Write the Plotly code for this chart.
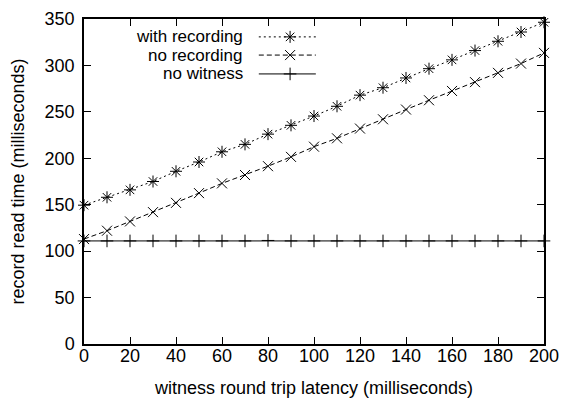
import plotly.graph_objects as go

latency = [0, 10, 20, 30, 40, 50, 60, 70, 80, 90, 100, 110, 120, 130, 140, 150, 160, 170, 180, 190, 200]
with_recording = [149.5, 158, 166, 175, 186, 196, 207, 215, 226, 235.5, 245.5, 256, 268, 276, 286.5, 296.5, 306, 316, 326, 336, 346.5]
no_recording = [113, 122, 132, 142, 152, 162.5, 173, 182, 191.5, 201.5, 212.5, 221.5, 232, 242, 252.5, 262.5, 272.5, 282, 292, 302, 313.5]
no_witness = [111, 111, 111, 111, 111, 111, 111, 111, 111.5, 111, 111, 111, 111, 111, 111, 111, 111, 111, 111, 111, 111]

series_names = ["with recording", "no recording", "no witness"]
series_data = [with_recording, no_recording, no_witness]
series_dash = ["2px,3px", "5px,3px", "solid"]
series_symbol = ["asterisk-open", "x-thin-open", "cross-thin-open"]
series_msize = [10, 10, 9]

x_ticks = [0, 20, 40, 60, 80, 100, 120, 140, 160, 180, 200]
y_ticks = [0, 50, 100, 150, 200, 250, 300, 350]

FONT = "Liberation Sans, Arial, Helvetica, sans-serif"
TICK_SIZE = 18
TITLE_SIZE = 18
KEY_SIZE = 17

fig = go.Figure()
for name, ys, dash, sym, ms in zip(series_names, series_data, series_dash, series_symbol, series_msize):
    fig.add_trace(go.Scatter(
        x=latency, y=ys, name=name, mode="lines+markers",
        line=dict(color="black", width=1, dash=dash),
        marker=dict(symbol=sym, size=ms, color="black", line=dict(color="black", width=1)),
        showlegend=False, cliponaxis=False,
    ))

# gnuplot-style key: text right-aligned, sample to the right
key_text_x = 0.350
key_line_x0, key_line_x1 = 0.380, 0.504
key_marker_x = 0.448
key_ys = [0.945, 0.889, 0.831]
annotations = []
for name, dash, sym, ms, ky in zip(series_names, series_dash, series_symbol, series_msize, key_ys):
    fig.add_trace(go.Scatter(
        x=[key_line_x0, key_line_x1], y=[ky, ky],
        xaxis="x2", yaxis="y2", mode="lines", showlegend=False, hoverinfo="skip",
        line=dict(color="black", width=1, dash=dash),
    ))
    fig.add_trace(go.Scatter(
        x=[key_marker_x], y=[ky],
        xaxis="x2", yaxis="y2", mode="markers", showlegend=False, hoverinfo="skip",
        marker=dict(symbol=sym, size=ms, color="black", line=dict(color="black", width=1)),
    ))
    annotations.append(dict(
        x=key_text_x, y=ky, xref="paper", yref="paper", text=name, showarrow=False,
        xanchor="right", yanchor="middle", font=dict(family=FONT, size=KEY_SIZE, color="black"),
    ))

axis_common = dict(
    showgrid=False, zeroline=False, showline=True, linecolor="black", linewidth=1.5,
    mirror="allticks", ticks="inside", ticklen=7, tickwidth=1, tickcolor="black",
    tickfont=dict(family=FONT, size=TICK_SIZE, color="black"), automargin=False,
)

fig.update_layout(
    width=561, height=398,
    margin=dict(l=84, r=17, t=19, b=54),
    paper_bgcolor="white", plot_bgcolor="white",
    xaxis=dict(range=[0, 200], tickvals=x_ticks, ticktext=[str(v) for v in x_ticks],
               ticklabelstandoff=-5,
               title=dict(text="witness round trip latency (milliseconds)", standoff=17,
                          font=dict(family=FONT, size=TITLE_SIZE, color="black")),
               **axis_common),
    yaxis=dict(range=[0, 350], tickvals=y_ticks, ticktext=[str(v) for v in y_ticks],
               ticklabelstandoff=4,
               title=dict(text="record read time (milliseconds)", standoff=15,
                          font=dict(family=FONT, size=TITLE_SIZE, color="black")),
               **axis_common),
    xaxis2=dict(range=[0, 1], domain=[0, 1], overlaying="x", visible=False, fixedrange=True),
    yaxis2=dict(range=[0, 1], domain=[0, 1], overlaying="y", visible=False, fixedrange=True),
    annotations=annotations,
    showlegend=False,
)

fig.write_html("out.html", config={"displayModeBar": False},
               post_script="document.body.style.margin='0';document.body.style.overflow='hidden';")
